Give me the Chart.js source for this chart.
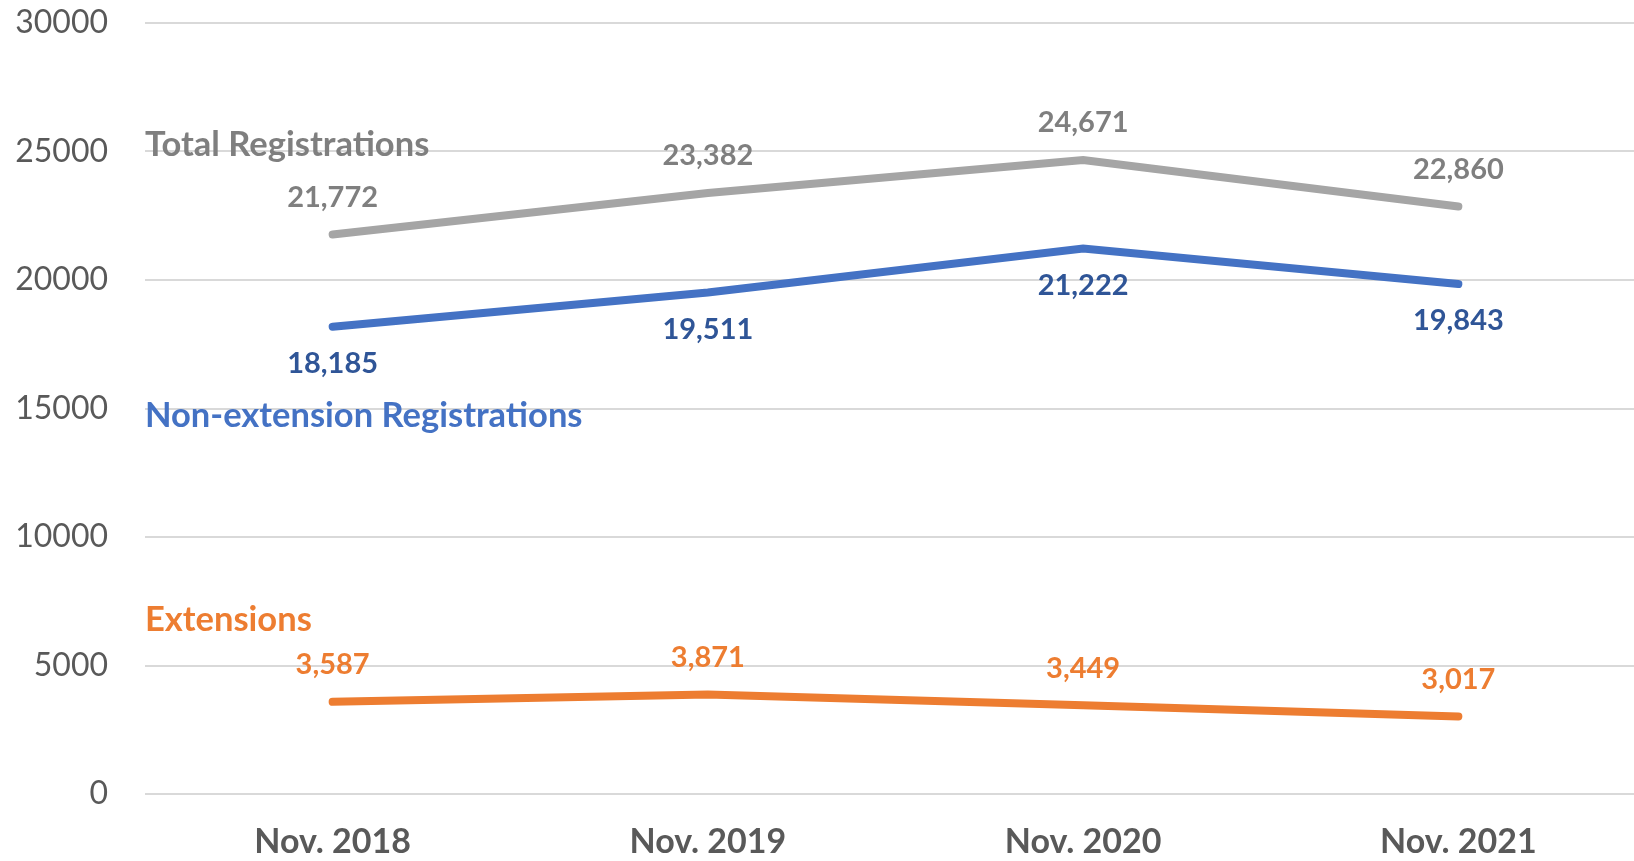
<!DOCTYPE html>
<html lang="en">
<head>
<meta charset="UTF-8">
<title>Registrations</title>
<style>
  html, body { margin: 0; padding: 0; background: #fff; overflow: hidden; }
  .chart-container { width: 1646px; height: 861px; }
</style>
</head>
<body>
<div class="chart-container"><canvas id="regChart"></canvas></div>

<script src="https://cdn.jsdelivr.net/npm/chart.js"></script>
<script>
// chart data
const months = ['Nov. 2018', 'Nov. 2019', 'Nov. 2020', 'Nov. 2021'];
const totalRegistrations = [21772, 23382, 24671, 22860];
const nonExtension = [18185, 19511, 21222, 19843];
const extensions = [3587, 3871, 3449, 3017];
const yTicks = [0, 5000, 10000, 15000, 20000, 25000, 30000];

const FONT = 'Lato, "Open Sans", sans-serif';

// value labels next to each point, and series names on the left
const labelPlugin = {
    id: 'labels',
    afterDatasetsDraw(chart) {
        const ctx = chart.ctx;
        const y = chart.scales.y;
        ctx.save();
        ctx.textAlign = 'center';
        ctx.textBaseline = 'middle';
        ctx.font = 'bold 29px ' + FONT;
        chart.data.datasets.forEach((ds, i) => {
            const meta = chart.getDatasetMeta(i);
            ctx.fillStyle = ds.labelColor;
            meta.data.forEach((pt, j) => {
                const dy = ds.labelBelow ? 37 : -37;
                ctx.fillText(ds.data[j].toLocaleString('en-US'), pt.x, pt.y + dy);
            });
        });
        ctx.textAlign = 'left';
        ctx.font = 'bold 34.5px ' + FONT;
        chart.data.datasets.forEach(ds => {
            ctx.fillStyle = ds.nameColor;
            ctx.fillText(ds.label, chart.chartArea.left, y.getPixelForValue(ds.nameAt));
        });
        ctx.restore();
    }
};

new Chart(document.getElementById('regChart').getContext('2d'), {
    type: 'line',
    data: {
        labels: months,
        datasets: [
            { label: 'Total Registrations', data: totalRegistrations, borderColor: '#A5A5A5',
              labelColor: '#7F7F7F', nameColor: '#7F7F7F', nameAt: 25250, labelBelow: false },
            { label: 'Non-extension Registrations', data: nonExtension, borderColor: '#4472C4',
              labelColor: '#2F5597', nameColor: '#4472C4', nameAt: 14700, labelBelow: true },
            { label: 'Extensions', data: extensions, borderColor: '#ED7D31',
              labelColor: '#ED7D31', nameColor: '#ED7D31', nameAt: 6770, labelBelow: false }
        ]
    },
    options: {
        responsive: true,
        maintainAspectRatio: false,
        animation: false,
        layout: { padding: { top: 23, left: 0, right: 0, bottom: 0 } },
        elements: {
            line: { borderWidth: 8, borderCapStyle: 'round', tension: 0, fill: false },
            point: { radius: 0, hoverRadius: 0 }
        },
        plugins: { legend: { display: false }, tooltip: { enabled: false } },
        scales: {
            x: {
                offset: true,
                grid: { display: false, drawTicks: false },
                border: { display: false },
                ticks: { color: '#595959', font: { family: FONT, size: 34, weight: 'bold' }, padding: 28 },
                afterFit: s => { s.height = 67; s.paddingLeft = 0; s.paddingRight = 0; }
            },
            y: {
                min: 0, max: 30000,
                afterBuildTicks: s => { s.ticks = yTicks.map(v => ({ value: v })); },
                grid: { color: '#D9D9D9', lineWidth: 2, drawTicks: false },
                border: { display: false },
                ticks: { color: '#595959', font: { family: FONT, size: 32 }, padding: 37,
                         callback: v => String(v) },
                afterFit: s => { s.width = 145; s.paddingTop = 0; s.paddingBottom = 0; }
            }
        }
    },
    plugins: [labelPlugin]
});
</script>
</body>
</html>
